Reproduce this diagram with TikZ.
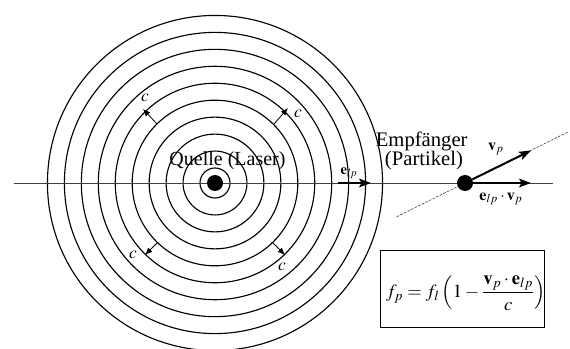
\documentclass[tikz,border=0pt]{standalone}
\usepackage{mathptmx}
\usepackage{fontspec}
\setmainfont{Liberation Serif}
\usetikzlibrary{arrows.meta,calc}
\begin{document}
\begin{tikzpicture}[x=0.75pt,y=-0.75pt,
  ring/.style={line width=0.85pt},
  axisline/.style={line width=0.5pt, black!75},
  guide/.style={line width=0.45pt, black!75, dash pattern=on 2pt off 1pt},
  dot/.style={circle, fill=black, inner sep=0pt, minimum size=12pt},
  carrow/.style={line width=0.6pt, -{Latex[length=5.5pt,width=4.5pt]}},
  varrow/.style={line width=1.5pt, -{Stealth[length=9pt,width=6.5pt,inset=2pt]}},
  clabel/.style={font=\fontsize{13}{15}\selectfont, inner sep=0pt},
  vlabel/.style={font=\fontsize{12}{14}\selectfont, inner sep=0pt},
  bigtext/.style={font=\fontsize{15.5}{18}\selectfont, inner sep=0pt},
  fbox/.style={draw, line width=0.8pt, minimum width=123pt, minimum height=58pt}]
\useasboundingbox (0,0) rectangle (570,349);
% wave fronts
\coordinate (O) at (215,183);
\foreach \k in {0,...,9} \draw[ring] (O) circle[radius={15+16.95*\k}];
% axis and particle path
\coordinate (axL) at (14,183);
\coordinate (axR) at (553,183);
\draw[axisline] (axL) -- (axR);
\coordinate (d1) at (396.7,216.7);
\coordinate (d2) at (568,132);
\draw[guide] (d1) -- (d2);
% c arrows
\coordinate (c1s) at ($(O)+(-58,-59)$); \coordinate (c1t) at ($(O)+(-72,-74)$);
\coordinate (c2s) at ($(O)+(59,-59)$);  \coordinate (c2t) at ($(O)+(73,-75)$);
\coordinate (c3s) at ($(O)+(-58,60)$);  \coordinate (c3t) at ($(O)+(-70,72)$);
\coordinate (c4s) at ($(O)+(58,60)$);   \coordinate (c4t) at ($(O)+(70,72)$);
\draw[carrow] (c1s) -- (c1t);
\draw[carrow] (c2s) -- (c2t);
\draw[carrow] (c3s) -- (c3t);
\draw[carrow] (c4s) -- (c4t);
\node[clabel] (cl1) at ($(O)+(-70,-85)$) {$c$};
\node[clabel] (cl2) at ($(O)+(83,-69)$) {$c$};
\node[clabel] (cl3) at ($(O)+(-82,72)$) {$c$};
\node[clabel] (cl4) at ($(O)+(67,84)$) {$c$};
% source
\node[dot] (src) at (O) {};
\node[bigtext, font=\fontsize{15}{18}\selectfont] (quelle) at (227.5,161) {Quelle (Laser)};
% unit vector at source side
\coordinate (e1s) at (338,183);
\coordinate (e1t) at (371,183);
\draw[varrow] (e1s) -- (e1t);
\node[vlabel, font=\fontsize{11}{13}\selectfont] (elp) at (349,173) {$\mathbf{e}_{lp}$};
% particle
\node[dot] (prt) at (465,183) {};
\coordinate (vtip) at (531,150.5);
\coordinate (etip) at (531,183);
\draw[varrow] (prt) -- (vtip);
\draw[varrow] (prt) -- (etip);
\node[vlabel] (vp) at (496,149) {$\mathbf{v}_p$};
\node[vlabel] (evp) at (501,199) {$\mathbf{e}_{lp}\cdot\mathbf{v}_p$};
\node[bigtext, anchor=base] (emp) at (421.7,146.7) {Empfänger};
\node[bigtext, anchor=base] (part) at (424,165.6) {(Partikel)};
% formula
\node[fbox] (box) at (462.2,288.7) {};
\node[font=\fontsize{14}{17}\selectfont, inner sep=0pt] (frm) at (466,293)
  {$f_p = f_l\left(1-\displaystyle\frac{\mathbf{v}_p\cdot\mathbf{e}_{lp}}{c}\right)$};
\end{tikzpicture}
\end{document}
